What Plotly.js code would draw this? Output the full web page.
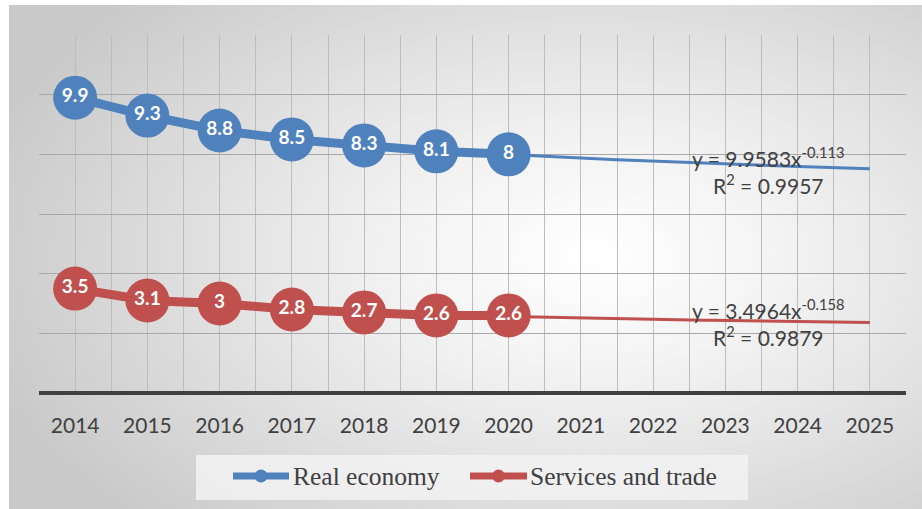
<!DOCTYPE html>
<html>
<head>
<meta charset="utf-8">
<script src="https://cdn.plot.ly/plotly-3.0.1.min.js"></script>
<style>
  html, body { margin:0; padding:0; background:#ffffff; }
  #wrap { position:relative; width:922px; height:509px; overflow:hidden; }
  #bg { position:absolute; left:9px; top:5px; width:913px; height:504px;
        background: radial-gradient(ellipse 70% 75% at 64% 50%, #ffffff 0%, #f4f4f4 28%, #dadada 72%, #c9c9c9 100%); }
  #chart { position:absolute; left:0; top:0; width:922px; height:509px; }
</style>
</head>
<body>
<div id="wrap"><div id="bg"></div><div id="chart"></div></div>
<script>
// ---- data ----
const years = ['2014','2015','2016','2017','2018','2019','2020','2021','2022','2023','2024','2025'];
const realEconomy = [9.9, 9.3, 8.8, 8.5, 8.3, 8.1, 8];
const servicesTrade = [3.5, 3.1, 3, 2.8, 2.7, 2.6, 2.6];
const realLabels = ['9.9','9.3','8.8','8.5','8.3','8.1','8'];
const servLabels = ['3.5','3.1','3','2.8','2.7','2.6','2.6'];
const seriesNames = ['Real economy', 'Services and trade'];
// power trendlines as printed on the chart: y = a * x^b (x = 1 for 2014)
const realTrend = {a: 9.9583, b: -0.113, r2: '0.9957'};
const servTrend = {a: 3.4964, b: -0.158, r2: '0.9879'};

const BLUE = '#4f81bd', RED = '#c0504d';
const dataIdx = realEconomy.map((_, i) => i);
const yearIdx = years.map((_, i) => i);
const boundIdx = years.map((_, i) => i - 0.5).concat([years.length - 0.5]);

function trendPts(t) {
  const xs = [], ys = [];
  for (let k = 0; k <= 110; k++) {
    const x = 1 + k * (years.length - 1) / 110; // 1..12
    xs.push(x - 1);
    ys.push(t.a * Math.pow(x, t.b));
  }
  return {xs, ys};
}
const rt = trendPts(realTrend), st = trendPts(servTrend);

const labelFont = {family: 'Lato, sans-serif', size: 19, color: '#ffffff', weight: 'bold'};
const traces = [
  {x: rt.xs, y: rt.ys, mode: 'lines', line: {color: BLUE, width: 3}, showlegend: false, hoverinfo: 'skip'},
  {x: st.xs, y: st.ys, mode: 'lines', line: {color: RED, width: 3}, showlegend: false, hoverinfo: 'skip'},
  {x: dataIdx, y: realEconomy, name: seriesNames[0], mode: 'lines+markers+text',
   text: realLabels, textposition: 'middle center', textfont: labelFont,
   line: {color: BLUE, width: 9}, marker: {color: BLUE, size: 44}, showlegend: false},
  {x: dataIdx, y: servicesTrade, name: seriesNames[1], mode: 'lines+markers+text',
   text: servLabels, textposition: 'middle center', textfont: labelFont,
   line: {color: RED, width: 9}, marker: {color: RED, size: 44}, showlegend: false}
];

function eqText(t) {
  return 'y = ' + t.a.toFixed(4) + 'x<sup>' + t.b + '</sup><br>R<sup>2</sup> = ' + t.r2;
}

// layout geometry (pixels)
const W = 922, H = 509, M = {l: 39, r: 16, t: 35, b: 116};
const PW = W - M.l - M.r, PH = H - M.t - M.b;
const px = p => (p - M.l) / PW;
const py = p => (H - M.b - p) / PH;

// hand-built legend (Excel style: long line with a dot)
const legItems = [
  {color: BLUE, x0: 233, x1: 289, tx: 292, name: seriesNames[0]},
  {color: RED,  x0: 470, x1: 527, tx: 529, name: seriesNames[1]}
];
const legY = 476;
const shapes = [
  {type: 'line', xref: 'paper', yref: 'paper', x0: 0, x1: 1, y0: 0, y1: 0,
   line: {color: '#404040', width: 4}},
  {type: 'rect', xref: 'paper', yref: 'paper', x0: px(196), x1: px(748), y0: py(455), y1: py(500),
   fillcolor: 'rgba(242,242,242,0.85)', line: {width: 0}, layer: 'below'}
];
const annotations = [
  {x: 9.6, y: 7.47, xref: 'x', yref: 'y', text: eqText(realTrend), showarrow: false,
   align: 'center', yanchor: 'middle', font: {family: 'Lato, sans-serif', size: 21, color: '#404040'}},
  {x: 9.6, y: 2.35, xref: 'x', yref: 'y', text: eqText(servTrend), showarrow: false,
   align: 'center', yanchor: 'middle', font: {family: 'Lato, sans-serif', size: 21, color: '#404040'}}
];
legItems.forEach(it => {
  shapes.push({type: 'line', xref: 'paper', yref: 'paper', x0: px(it.x0), x1: px(it.x1), y0: py(legY), y1: py(legY),
    line: {color: it.color, width: 7}});
  const cx = (it.x0 + it.x1) / 2;
  shapes.push({type: 'circle', xref: 'paper', yref: 'paper', x0: px(cx - 6.5), x1: px(cx + 6.5),
    y0: py(legY + 6.5), y1: py(legY - 6.5), fillcolor: it.color, line: {width: 0}});
  annotations.push({xref: 'paper', yref: 'paper', x: px(it.tx), y: py(legY), xanchor: 'left', yanchor: 'middle',
    text: it.name, showarrow: false, borderpad: 0,
    font: {family: '"Liberation Serif", serif', size: 25.5, color: '#404040'}});
});

const layout = {
  width: W, height: H,
  margin: M,
  paper_bgcolor: 'rgba(0,0,0,0)',
  plot_bgcolor: 'rgba(0,0,0,0)',
  showlegend: false,
  xaxis: {
    range: [-0.5, years.length - 0.5],
    tickmode: 'array', tickvals: yearIdx, ticktext: years,
    showgrid: true, gridcolor: '#bdbdbd', gridwidth: 1,
    minor: {tickmode: 'array', tickvals: boundIdx, showgrid: true, gridcolor: '#bdbdbd', gridwidth: 1, ticks: ''},
    zeroline: false, showline: false, ticks: '',
    ticklabelstandoff: 18,
    tickfont: {family: 'Lato, sans-serif', size: 21, color: '#404040'},
    fixedrange: true
  },
  yaxis: {
    range: [0, 12], dtick: 2, tick0: 0,
    showgrid: true, gridcolor: '#a8a8a8', gridwidth: 1,
    showticklabels: false, zeroline: false, showline: false, ticks: '',
    fixedrange: true
  },
  shapes: shapes,
  annotations: annotations
};

Plotly.newPlot('chart', traces, layout, {displayModeBar: false, staticPlot: true});
</script>
</body>
</html>
